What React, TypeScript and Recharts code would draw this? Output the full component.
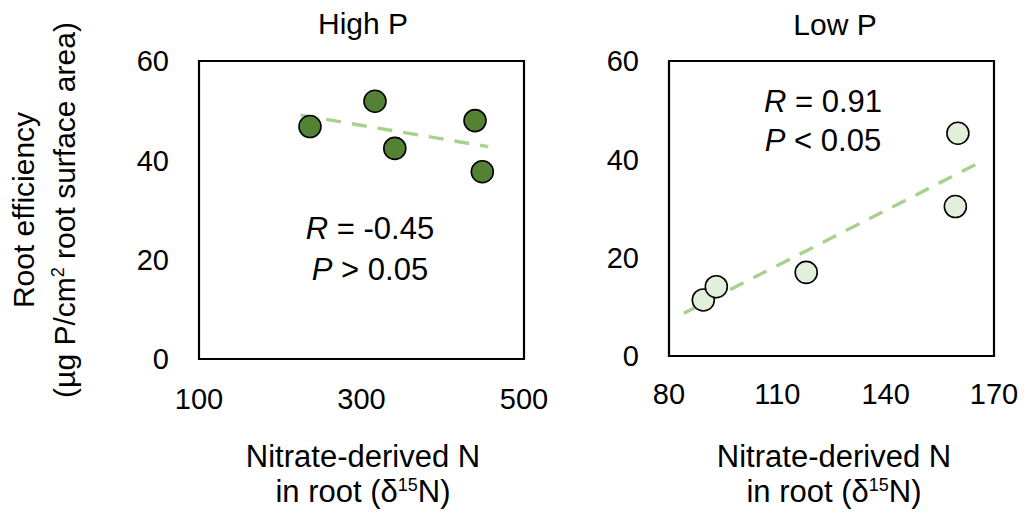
import { ReferenceArea, ReferenceLine, Scatter, ScatterChart, XAxis, YAxis } from "recharts";

const highX = [236.6, 316.6, 341, 439.7, 448.7];
const highY = [46.8, 51.9, 42.4, 48.0, 37.7];
const lowX = [89.5, 93.1, 118.0, 160.0, 159.3];
const lowY = [11.4, 14.1, 17.0, 45.3, 30.4];

const highTrendX = [225, 456];
const highTrendY = [49.1, 42.75];
const lowTrendX = [84.1, 165.6];
const lowTrendY = [8.7, 39.2];

const yTicks = [0, 20, 40, 60];
const highTicks = [100, 300, 500];
const lowTicks = [80, 110, 140, 170];

const FONT = "Arial, 'Liberation Sans', sans-serif";
const FS = 29;
const LABEL_FS = 31;

const highData = highX.map((x, i) => ({ x, y: highY[i] }));
const lowData = lowX.map((x, i) => ({ x, y: lowY[i] }));

function dot(fill: string) {
  return (p: any) => <circle cx={p.cx} cy={p.cy} r={11} fill={fill} stroke="#000" strokeWidth={1.6} />;
}

const tickStyle = { fill: "#000", fontSize: FS, fontFamily: FONT };

function Panel(props: {
  width: number;
  margin: any;
  yWidth: number;
  xTicks: number[];
  xTickMargin: number;
  data: { x: number; y: number }[];
  trendX: number[];
  trendY: number[];
  fill: string;
}) {
  const { xTicks } = props;
  const x0 = xTicks[0];
  const x1 = xTicks[xTicks.length - 1];
  return (
    <ScatterChart width={props.width} height={513} margin={props.margin}>
      <XAxis
        type="number"
        dataKey="x"
        domain={[x0, x1]}
        ticks={xTicks}
        axisLine={false}
        tickLine={false}
        tickSize={0}
        tickMargin={props.xTickMargin}
        tick={tickStyle}
        height={40}
        interval={0}
      />
      <YAxis
        type="number"
        dataKey="y"
        domain={[0, 60]}
        ticks={yTicks}
        axisLine={false}
        tickLine={false}
        tickSize={0}
        tickMargin={30}
        tick={tickStyle}
        width={props.yWidth}
        interval={0}
      />
      <ReferenceArea x1={x0} x2={x1} y1={0} y2={60} fill="none" fillOpacity={0} stroke="#000" strokeWidth={2.2} />
      <ReferenceLine
        segment={[
          { x: props.trendX[0], y: props.trendY[0] },
          { x: props.trendX[1], y: props.trendY[1] },
        ]}
        stroke="#a9d18e"
        strokeWidth={3.4}
        strokeDasharray="15 11"
      />
      <Scatter data={props.data} shape={dot(props.fill)} isAnimationActive={false} />
    </ScatterChart>
  );
}

export default function App() {
  const t = { fontFamily: FONT, fontSize: LABEL_FS, fill: "#000" } as const;
  return (
    <div style={{ position: "absolute", left: 0, top: 0, width: 1024, height: 513, background: "#fff" }}>
      <div style={{ position: "absolute", left: 0, top: 0 }}>
        <Panel
          width={570}
          margin={{ top: 61, right: 46, bottom: 114, left: 0 }}
          yWidth={199}
          xTicks={highTicks}
          xTickMargin={29}
          data={highData}
          trendX={highTrendX}
          trendY={highTrendY}
          fill="#548235"
        />
      </div>
      <div style={{ position: "absolute", left: 570, top: 0 }}>
        <Panel
          width={454}
          margin={{ top: 61, right: 30, bottom: 117, left: 0 }}
          yWidth={99}
          xTicks={lowTicks}
          xTickMargin={27}
          data={lowData}
          trendX={lowTrendX}
          trendY={lowTrendY}
          fill="#e2efda"
        />
      </div>
      <svg width={1024} height={513} style={{ position: "absolute", left: 0, top: 0, pointerEvents: "none" }}>
        <text {...t} fontSize={30} x={363} y={34} textAnchor="middle">High P</text>
        <text {...t} fontSize={30} x={835} y={35} textAnchor="middle">Low P</text>

        <text {...t} x={370} y={239} textAnchor="middle">
          <tspan fontStyle="italic">R</tspan> = -0.45
        </text>
        <text {...t} x={370} y={280} textAnchor="middle">
          <tspan fontStyle="italic">P</tspan> &gt; 0.05
        </text>
        <text {...t} x={823} y={112} textAnchor="middle">
          <tspan fontStyle="italic">R</tspan> = 0.91
        </text>
        <text {...t} x={823} y={151} textAnchor="middle">
          <tspan fontStyle="italic">P</tspan> &lt; 0.05
        </text>

        <g transform="translate(34,210) rotate(-90)">
          <text {...t} fontSize={30} x={0} y={0} textAnchor="middle">Root efficiency</text>
          <text {...t} fontSize={30} x={0} y={41} textAnchor="middle">
            (µg P/cm<tspan fontSize={18} dy={-11}>2</tspan>
            <tspan dy={11}> root surface area)</tspan>
          </text>
        </g>

        {[363, 834].map((cx) => (
          <g key={cx}>
            <text {...t} x={cx} y={467} textAnchor="middle">Nitrate-derived N</text>
            <text {...t} x={cx} y={502} textAnchor="middle">
              in root (δ<tspan fontSize={18} dy={-11}>15</tspan>
              <tspan dy={11}>N)</tspan>
            </text>
          </g>
        ))}
      </svg>
    </div>
  );
}
